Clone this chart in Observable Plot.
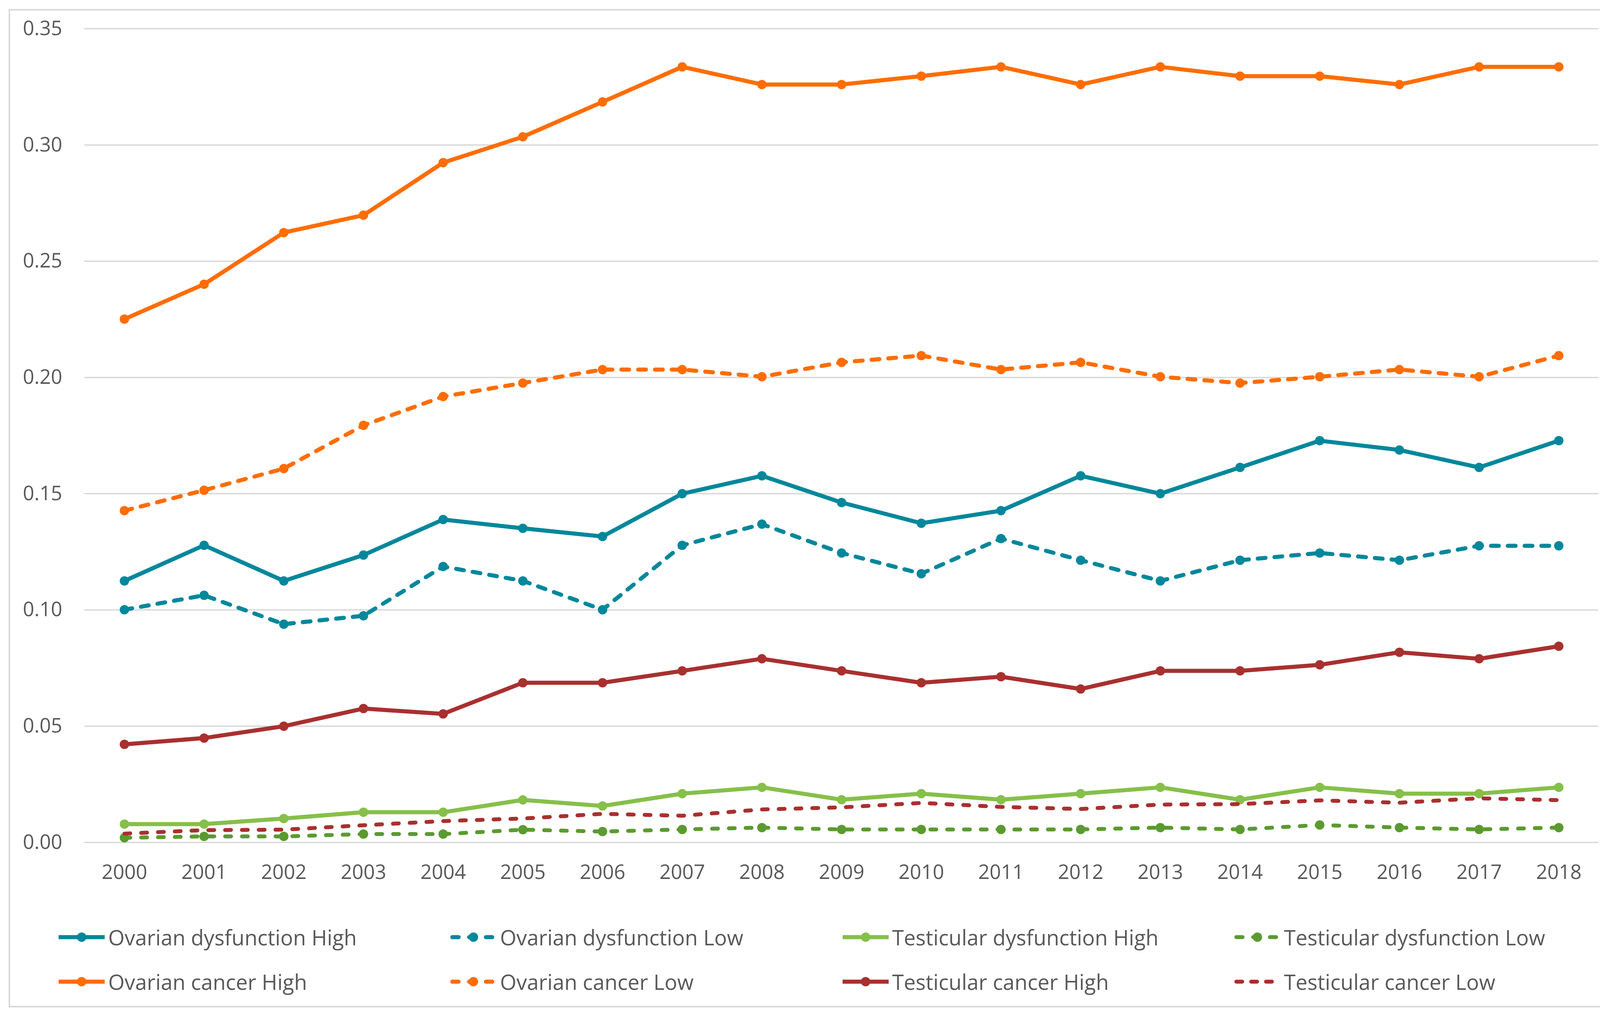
<!DOCTYPE html>
<html>
<head>
<meta charset="utf-8">
<script src="https://cdn.jsdelivr.net/npm/d3@7"></script>
<script src="https://cdn.jsdelivr.net/npm/@observablehq/plot@0.6"></script>
<style>
  html, body { margin: 0; padding: 0; background: #ffffff; }
  body { width: 4133px; height: 2584px; position: relative; overflow: hidden; font-family: "Open Sans", sans-serif; }
  #frame { position: absolute; left: 22px; top: 23px; width: 4086px; height: 2549px; border: 4px solid #d9d9d9; box-sizing: content-box; }
  #chart { position: absolute; left: 0; top: 0; }
  #legend { position: absolute; left: 0; top: 0; width: 4133px; height: 2584px; pointer-events: none; }
  .item { position: absolute; display: flex; align-items: center; height: 70px; }
  .item svg { display: block; }
  .item span { font-family: "Open Sans", sans-serif; font-size: 54px; color: #595959; margin-left: 9px; white-space: nowrap; }
</style>
</head>
<body>
<div id="frame"></div>
<div id="chart"></div>
<div id="legend"></div>
<script>
const years = [2000,2001,2002,2003,2004,2005,2006,2007,2008,2009,2010,2011,2012,2013,2014,2015,2016,2017,2018];

const ovarianDysfunctionHigh = [0.1125,0.1278,0.1125,0.1236,0.1389,0.1351,0.1316,0.1500,0.1577,0.1462,0.1373,0.1427,0.1577,0.1500,0.1613,0.1728,0.1688,0.1613,0.1728];
const ovarianDysfunctionLow  = [0.1001,0.1063,0.0939,0.0975,0.1187,0.1125,0.1001,0.1278,0.1369,0.1245,0.1156,0.1307,0.1214,0.1125,0.1214,0.1245,0.1214,0.1276,0.1276];
const testicularDysfunctionHigh = [0.0079,0.0079,0.0103,0.0130,0.0130,0.0183,0.0157,0.0210,0.0237,0.0184,0.0210,0.0184,0.0210,0.0237,0.0184,0.0237,0.0210,0.0210,0.0237];
const testicularDysfunctionLow  = [0.0020,0.0026,0.0026,0.0036,0.0036,0.0055,0.0047,0.0056,0.0064,0.0056,0.0056,0.0056,0.0056,0.0064,0.0056,0.0075,0.0064,0.0056,0.0064];
const ovarianCancerHigh = [0.2251,0.2401,0.2623,0.2698,0.2924,0.3035,0.3185,0.3336,0.3260,0.3260,0.3296,0.3336,0.3260,0.3336,0.3296,0.3296,0.3260,0.3336,0.3336];
const ovarianCancerLow  = [0.1427,0.1515,0.1608,0.1794,0.1918,0.1976,0.2034,0.2034,0.2003,0.2065,0.2094,0.2034,0.2065,0.2003,0.1976,0.2003,0.2034,0.2003,0.2094];
const testicularCancerHigh = [0.0422,0.0449,0.0500,0.0576,0.0553,0.0687,0.0687,0.0738,0.0790,0.0738,0.0687,0.0713,0.0660,0.0738,0.0738,0.0764,0.0818,0.0790,0.0844];
const testicularCancerLow  = [0.0038,0.0053,0.0055,0.0074,0.0092,0.0103,0.0123,0.0115,0.0142,0.0151,0.0170,0.0153,0.0144,0.0163,0.0165,0.0181,0.0171,0.0190,0.0182];

const yTicks = [0, 0.05, 0.10, 0.15, 0.20, 0.25, 0.30, 0.35];

const seriesNames = [
  "Ovarian dysfunction High", "Ovarian dysfunction Low",
  "Testicular dysfunction High", "Testicular dysfunction Low",
  "Ovarian cancer High", "Ovarian cancer Low",
  "Testicular cancer High", "Testicular cancer Low"
];
const seriesValues = [
  ovarianDysfunctionHigh, ovarianDysfunctionLow,
  testicularDysfunctionHigh, testicularDysfunctionLow,
  ovarianCancerHigh, ovarianCancerLow,
  testicularCancerHigh, testicularCancerLow
];
const seriesStyle = [
  {color: "#00879b", width: 10.5, dash: null, marker: true},
  {color: "#00879b", width: 10.5, dash: "20,23", marker: true},
  {color: "#86bf4a", width: 10.5, dash: null, marker: true},
  {color: "#5b9a30", width: 10, dash: "15,28", marker: true},
  {color: "#ff6d00", width: 10.5, dash: null, marker: true},
  {color: "#ff6d00", width: 10.5, dash: "20,23", marker: true},
  {color: "#a8302f", width: 10.5, dash: null, marker: true},
  {color: "#a8302f", width: 10, dash: "15,28", marker: false}
];

const marks = [
  Plot.gridY(yTicks, {stroke: "#d9d9d9", strokeOpacity: 1, strokeWidth: 3.5}),
  Plot.axisY(yTicks, {tickSize: 0, tickPadding: 57, tickFormat: d3.format(".2f"), fontSize: 51, fill: "#595959"}),
  Plot.axisX(years, {tickSize: 0, tickPadding: 57, tickFormat: d => String(d), fontSize: 51, fill: "#595959"})
];

seriesNames.forEach((name, i) => {
  const data = years.map((yr, j) => ({year: yr, value: seriesValues[i][j], series: name}));
  const st = seriesStyle[i];
  marks.push(Plot.line(data, {
    x: "year", y: "value", stroke: st.color, strokeWidth: st.width,
    strokeDasharray: st.dash || undefined, strokeLinecap: "round", strokeLinejoin: "round"
  }));
  if (st.marker) {
    marks.push(Plot.dot(data, {x: "year", y: "value", r: 12, fill: st.color, stroke: "none"}));
  }
});

const chart = Plot.plot({
  width: 4133,
  height: 2300,
  marginLeft: 216,
  marginRight: 41,
  marginTop: 73,
  marginBottom: 143,
  style: {background: "transparent", fontFamily: "'Open Sans', sans-serif", fontSize: "51px", color: "#595959"},
  x: {type: "point", domain: years, padding: 0.5, label: null},
  y: {domain: [0, 0.35], label: null},
  marks
});
document.getElementById("chart").appendChild(chart);

// Legend
const legendCols = [150, 1153, 2157, 3160];
const legendRows = [2400, 2514];
const legend = document.getElementById("legend");
seriesNames.forEach((name, k) => {
  const col = k % 4, row = Math.floor(k / 4);
  const st = seriesStyle[k];
  const item = document.createElement("div");
  item.className = "item";
  item.style.left = legendCols[col] + "px";
  item.style.top = (legendRows[row] - 35) + "px";
  const ns = "http://www.w3.org/2000/svg";
  const sw = document.createElementNS(ns, "svg");
  sw.setAttribute("width", 118);
  sw.setAttribute("height", 70);
  const ln = document.createElementNS(ns, "line");
  ln.setAttribute("x1", st.dash ? 5 : 0);
  ln.setAttribute("x2", st.dash ? 113 : 118);
  ln.setAttribute("y1", 35);
  ln.setAttribute("y2", 35);
  ln.setAttribute("stroke", st.color);
  ln.setAttribute("stroke-width", st.width);
  ln.setAttribute("stroke-linecap", st.dash ? "round" : "butt");
  if (st.dash) ln.setAttribute("stroke-dasharray", st.marker ? "16,27" : "15,23");
  sw.appendChild(ln);
  if (st.marker) {
    const c = document.createElementNS(ns, "circle");
    c.setAttribute("cx", 59); c.setAttribute("cy", 35); c.setAttribute("r", 12);
    c.setAttribute("fill", st.color);
    sw.appendChild(c);
  }
  item.appendChild(sw);
  const t = document.createElement("span");
  t.textContent = name;
  item.appendChild(t);
  legend.appendChild(item);
});
</script>
</body>
</html>
